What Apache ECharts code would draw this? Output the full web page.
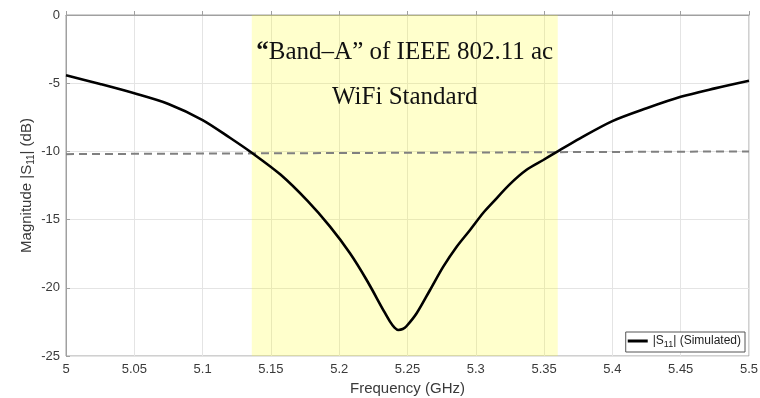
<!DOCTYPE html>
<html><head><meta charset="utf-8">
<script src="https://cdn.jsdelivr.net/npm/echarts@6/dist/echarts.min.js"></script>
<style>html,body{margin:0;padding:0;background:#fff}#c{width:760px;height:398px}</style>
</head><body><div id="c"></div>
<script>
// Frequency (GHz) and simulated |S11| (dB)
var freq = [5.000,5.025,5.050,5.075,5.100,5.120,5.136,5.157,5.177,5.1933,5.2079,5.2201,5.2323,5.2372,5.2405,5.2433,5.2465,5.2494,5.2567,5.2665,5.2762,5.2860,5.2958,5.3055,5.3128,5.325,5.3372,5.3494,5.3587,5.3763,5.400,5.425,5.450,5.475,5.500];
var s11  = [-4.42,-5.06,-5.74,-6.52,-7.70,-9.00,-10.10,-11.70,-13.65,-15.52,-17.47,-19.43,-21.63,-22.48,-22.92,-23.09,-23.02,-22.80,-21.87,-20.16,-18.45,-16.99,-15.76,-14.50,-13.70,-12.40,-11.35,-10.63,-10.07,-9.04,-7.78,-6.84,-6.00,-5.38,-4.82];
// -10 dB reference line endpoints
var refFreq = [5.0, 5.5];
var refDb = [-10.2, -10.0];
// Band-A shaded range
var bandRange = [5.136, 5.360];
var bandTitle = ['{q|\u201C}Band\u2013A\u201D of IEEE 802.11 ac', 'WiFi Standard'];
var seriesName = '|S11| (Simulated)';

var chart = echarts.init(document.getElementById('c'));
var pts = freq.map(function(f,i){return [f, s11[i]];});
var refPts = refFreq.map(function(f,i){return [f, refDb[i]];});
var axisText = {color:'#3a3a3a', fontFamily:'Liberation Sans, Arial', fontSize:13};
chart.setOption({
  animation:false,
  grid:{left:66,right:11,top:15,bottom:42,containLabel:false,outerBoundsMode:'none',show:true,borderColor:'#a0a0a0',borderWidth:1,backgroundColor:'transparent'},
  xAxis:{type:'value',min:5,max:5.5,interval:0.05,
    name:'Frequency (GHz)',nameLocation:'middle',nameGap:25,nameMoveOverlap:false,
    nameTextStyle:{color:'#3a3a3a',fontFamily:'Liberation Sans, Arial',fontSize:15},
    axisLine:{show:true,lineStyle:{color:'#a0a0a0'}},
    axisTick:{show:true,inside:true,length:4,lineStyle:{color:'#a0a0a0'}},
    axisLabel:Object.assign({margin:7},axisText),
    splitLine:{show:true,lineStyle:{color:'#e4e4e4',width:1}}},
  yAxis:{type:'value',min:-25,max:0,interval:5,
    name:'Magnitude |S{sub|11}| (dB)',nameLocation:'middle',nameGap:30,nameRotate:90,nameMoveOverlap:false,
    nameTextStyle:{color:'#3a3a3a',fontFamily:'Liberation Sans, Arial',fontSize:15,
      rich:{sub:{fontSize:10,verticalAlign:'bottom',padding:[9,0,0,0],color:'#3a3a3a',fontFamily:'Liberation Sans, Arial'}}},
    axisLine:{show:true,lineStyle:{color:'#a0a0a0'}},
    axisTick:{show:true,inside:true,length:4,lineStyle:{color:'#a0a0a0'}},
    axisLabel:Object.assign({margin:6},axisText),
    splitLine:{show:true,lineStyle:{color:'#e4e4e4',width:1}}},
  legend:{show:true,data:[seriesName],right:15,bottom:46,orient:'horizontal',
    backgroundColor:'#fff',borderColor:'#555',borderWidth:1,padding:[3,4,3,2],
    itemWidth:20,itemHeight:3,itemGap:2,icon:'rect',
    formatter:function(){return '|S{sub|11}| (Simulated)';},
    textStyle:{color:'#222',fontFamily:'Liberation Sans, Arial',fontSize:12,
      rich:{sub:{fontSize:9,padding:[7,0,0,0],color:'#222',fontFamily:'Liberation Sans, Arial'}}}},
  series:[
    {name:seriesName,type:'line',data:pts,showSymbol:false,smooth:0.3,
     lineStyle:{color:'#000',width:2.6},itemStyle:{color:'#000'},z:3},
    {name:'ref',type:'line',data:refPts,showSymbol:false,
     lineStyle:{color:'#808080',width:2,type:[8,5]},z:2},
    {name:'band',type:'line',data:[],z:6,
     markArea:{silent:true,itemStyle:{color:'rgba(255,255,0,0.2)'},
       data:[[{xAxis:bandRange[0],yAxis:-25},{xAxis:bandRange[1],yAxis:0}]]}}
  ]
});
// titles placed over band center
var cx = chart.convertToPixel({xAxisIndex:0},(bandRange[0]+bandRange[1])/2);
var tfont = {fontFamily:'Liberation Serif, serif',fontSize:25,fill:'#111',align:'center',verticalAlign:'middle'};
chart.setOption({graphic:[
  {type:'text',x:cx,y:52,z:10,style:Object.assign({text:bandTitle[0],rich:{q:{fontWeight:'bold',fontFamily:'Liberation Serif, serif',fontSize:25,fill:'#111'}}},tfont)},
  {type:'text',x:cx,y:97,z:10,style:Object.assign({text:bandTitle[1]},tfont)}
]});
</script></body></html>
